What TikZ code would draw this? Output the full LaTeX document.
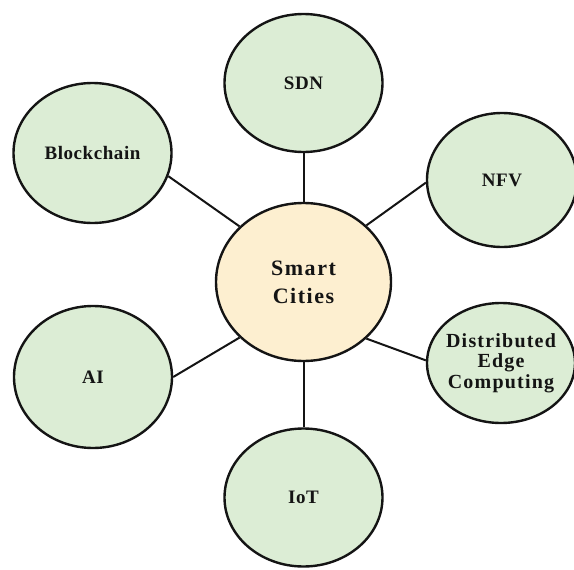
\documentclass[tikz,border=0pt]{standalone}
\usepackage{fontspec}
\setmainfont{Liberation Serif}
\usetikzlibrary{shapes.geometric}
\definecolor{leafgreen}{HTML}{DCEDD5}
\definecolor{peach}{HTML}{FDEFD0}
\definecolor{ink}{HTML}{141414}
\tikzset{
  topic/.style={ellipse, draw=ink, line width=2.4pt, fill=leafgreen, inner sep=0pt,
    minimum width=158pt, minimum height=138pt, align=center, text=ink,
    font=\addfontfeature{LetterSpace=3}\fontsize{19}{21}\selectfont\bfseries},
  hub/.style={ellipse, draw=ink, line width=2.4pt, fill=peach, inner sep=0pt,
    minimum width=175pt, minimum height=158pt, align=center, text=ink,
    font=\addfontfeature{LetterSpace=7}\fontsize{22}{28}\selectfont\bfseries},
  link/.style={draw=ink, line width=2pt}
}
\begin{document}
\begin{tikzpicture}[x=1pt,y=-1pt]
\useasboundingbox (0,0) rectangle (574,570);
\node[hub] (sc) at (303.5,282) {Smart\\Cities};
\node[topic] (sdn) at (303.5,83) {SDN};
\node[topic, minimum height=140pt] (blk) at (92.5,153) {Blockchain};
\node[topic, minimum width=150pt, minimum height=134pt] (nfv) at (502,180) {NFV};
\node[topic, minimum width=148pt, minimum height=120pt, inner sep=-10pt,
  font=\addfontfeature{LetterSpace=6}\fontsize{20}{20.5}\selectfont\bfseries] (dec) at (501,363) {Distributed\\Edge\\Computing};
\node[topic, minimum height=142pt] (ai) at (93,377) {AI};
\node[topic] (iot) at (303.5,497.5) {IoT};
\draw[link] (sdn.south) -- (sc.north);
\draw[link] (iot.north) -- (sc.south);
\draw[link] (blk.-17) -- (sc.139);
\draw[link] (nfv.182) -- (sc.42);
\draw[link] (ai.0) -- (sc.221);
\draw[link] (dec.178) -- (sc.-42);
\end{tikzpicture}
\end{document}
